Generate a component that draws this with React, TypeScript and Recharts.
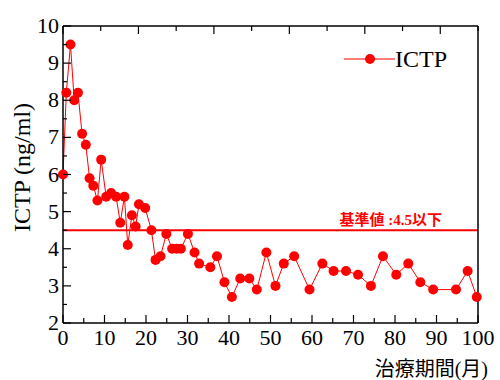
import React from "react";
import {
  ComposedChart,
  Line,
  XAxis,
  YAxis,
  ReferenceLine,
  Legend,
} from "recharts";

// ─── Data ─────────────────────────────────────────────────────────────────────

const months = [
  0, 0.8, 1.8, 2.7, 3.6, 4.6, 5.5, 6.4, 7.3, 8.3, 9.2, 10.4, 11.6, 12.8, 13.8,
  14.8, 15.6, 16.6, 17.5, 18.3, 19.8, 21.3, 22.3, 23.5, 24.9, 26.3, 27.4, 28.4,
  30.1, 31.7, 32.8, 35.5, 37.1, 38.9, 40.7, 42.7, 44.9, 46.7, 49, 51.2, 53.2,
  55.7, 59.4, 62.5, 65.2, 68.2, 71.1, 74.2, 77.1, 80.3, 83.2, 86.1, 89.2, 94.7,
  97.5, 99.7,
];

const ictp = [
  6.0, 8.2, 9.5, 8.0, 8.2, 7.1, 6.8, 5.9, 5.7, 5.3, 6.4, 5.4, 5.5, 5.4, 4.7,
  5.4, 4.1, 4.9, 4.6, 5.2, 5.1, 4.5, 3.7, 3.8, 4.4, 4.0, 4.0, 4.0, 4.4, 3.9,
  3.6, 3.5, 3.8, 3.1, 2.7, 3.2, 3.2, 2.9, 3.9, 3.0, 3.6, 3.8, 2.9, 3.6, 3.4,
  3.4, 3.3, 3.0, 3.8, 3.3, 3.6, 3.1, 2.9, 2.9, 3.4, 2.7,
];

const xTicks = [
  0, 5, 10, 15, 20, 25, 30, 35, 40, 45, 50, 55, 60, 65, 70, 75, 80, 85, 90, 95, 100,
];
const yTicks = [
  2, 2.5, 3, 3.5, 4, 4.5, 5, 5.5, 6, 6.5, 7, 7.5, 8, 8.5, 9, 9.5, 10,
];

const threshold = 4.5;
const thresholdLabel = "基準値 :4.5以下";
const seriesName = "ICTP";
const yLabel = "ICTP (ng/ml)";
const xLabel = "治療期間(月)";

const data = months.map((m, i) => ({ month: m, ictp: ictp[i] }));

// ─── Styles ───────────────────────────────────────────────────────────────────

const RED = "#ff0000";
const FONT = '"Liberation Serif", "Noto Sans CJK JP", serif';
const axisLine = { stroke: "#000", strokeWidth: 1.5 };
const isMajorX = (v: number) => v % 10 === 0;
const isMajorY = (v: number) => Number.isInteger(v);

// ─── Tick renderers (inward ticks, labels outside) ────────────────────────────

function BottomTick({ x, y, payload }: any) {
  const v = payload.value;
  const len = isMajorX(v) ? 8 : 5;
  return (
    <g>
      <line x1={x} x2={x} y1={y} y2={y - len} stroke="#000" strokeWidth={1.2} />
      {isMajorX(v) && (
        <text x={x} y={y + 22} textAnchor="middle" fontFamily={FONT} fontSize={22} fill="#000">
          {v}
        </text>
      )}
    </g>
  );
}

function TopTick({ x, y, payload }: any) {
  const len = isMajorX(payload.value) ? 8 : 5;
  return <line x1={x} x2={x} y1={y} y2={y + len} stroke="#000" strokeWidth={1.2} />;
}

function LeftTick({ x, y, payload }: any) {
  const v = payload.value;
  const len = isMajorY(v) ? 8 : 4;
  return (
    <g>
      <line x1={x} x2={x + len} y1={y} y2={y} stroke="#000" strokeWidth={1.2} />
      {isMajorY(v) && (
        <text x={x - 4} y={y + 7} textAnchor="end" fontFamily={FONT} fontSize={22} fill="#000">
          {v}
        </text>
      )}
    </g>
  );
}

function RightTick({ x, y, payload }: any) {
  const len = isMajorY(payload.value) ? 8 : 4;
  return <line x1={x} x2={x - len} y1={y} y2={y} stroke="#000" strokeWidth={1.2} />;
}

// ─── Labels ───────────────────────────────────────────────────────────────────

function ThresholdLabel({ viewBox }: any) {
  const { x, y, width } = viewBox;
  return (
    <text
      x={x + width - 36}
      y={y - 5}
      textAnchor="end"
      fontFamily={FONT}
      fontSize={15}
      fontWeight="bold"
      fill={RED}
    >
      {thresholdLabel}
    </text>
  );
}

function YTitle({ viewBox }: any) {
  const cx = 22;
  const cy = viewBox.y + viewBox.height / 2 - 7;
  return (
    <text
      x={cx}
      y={cy}
      transform={`rotate(-90, ${cx}, ${cy})`}
      textAnchor="middle"
      dominantBaseline="central"
      fontFamily={FONT}
      fontSize={24}
      fill="#000"
    >
      {yLabel}
    </text>
  );
}

function XTitle({ viewBox }: any) {
  return (
    <text
      x={viewBox.x + viewBox.width + 10}
      y={376}
      textAnchor="end"
      fontFamily={FONT}
      fontSize={20}
      fill="#000"
    >
      {xLabel}
    </text>
  );
}

function LegendContent() {
  return (
    <svg width={110} height={30} style={{ display: "block" }}>
      <line x1={2} x2={53} y1={15} y2={15} stroke="#ff5050" strokeWidth={1.5} />
      <circle cx={28} cy={15} r={5} fill={RED} />
      <text x={53} y={23} fontFamily={FONT} fontSize={24} fill="#000">
        {seriesName}
      </text>
    </svg>
  );
}

// ─── Chart ────────────────────────────────────────────────────────────────────

export default function App() {
  return (
    <div style={{ position: "absolute", left: 0, top: 0, background: "#fff" }}>
      <ComposedChart
        width={500}
        height={380}
        data={data}
        margin={{ top: 25, right: 21, left: 0, bottom: 0 }}
      >
        <XAxis
          dataKey="month"
          type="number"
          domain={[0, 100]}
          ticks={xTicks}
          interval={0}
          height={57}
          axisLine={axisLine}
          tickLine={false}
          tickSize={0}
          tickMargin={0}
          tick={<BottomTick />}
          label={<XTitle />}
        />
        <XAxis
          xAxisId="top"
          orientation="top"
          type="number"
          domain={[0, 100]}
          ticks={xTicks}
          interval={0}
          height={1}
          axisLine={axisLine}
          tickLine={false}
          tickSize={0}
          tickMargin={0}
          tick={<TopTick />}
        />
        <YAxis
          type="number"
          domain={[2, 10]}
          ticks={yTicks}
          interval={0}
          width={63}
          axisLine={axisLine}
          tickLine={false}
          tickSize={0}
          tickMargin={0}
          tick={<LeftTick />}
          label={<YTitle />}
        />
        <YAxis
          yAxisId="right"
          orientation="right"
          type="number"
          domain={[2, 10]}
          ticks={yTicks}
          interval={0}
          width={1}
          axisLine={axisLine}
          tickLine={false}
          tickSize={0}
          tickMargin={0}
          tick={<RightTick />}
        />
        <ReferenceLine
          y={threshold}
          stroke={RED}
          strokeWidth={2}
          label={(props: any) => <ThresholdLabel {...props} />}
        />
        <Line
          dataKey="ictp"
          name={seriesName}
          type="linear"
          stroke={RED}
          strokeWidth={1}
          dot={{ r: 5, fill: RED, stroke: "none" }}
          isAnimationActive={false}
        />
        <Legend
          layout="horizontal"
          verticalAlign="middle"
          align="center"
          content={<LegendContent />}
          wrapperStyle={{ top: 44, left: 342, width: 120 }}
        />
      </ComposedChart>
    </div>
  );
}
